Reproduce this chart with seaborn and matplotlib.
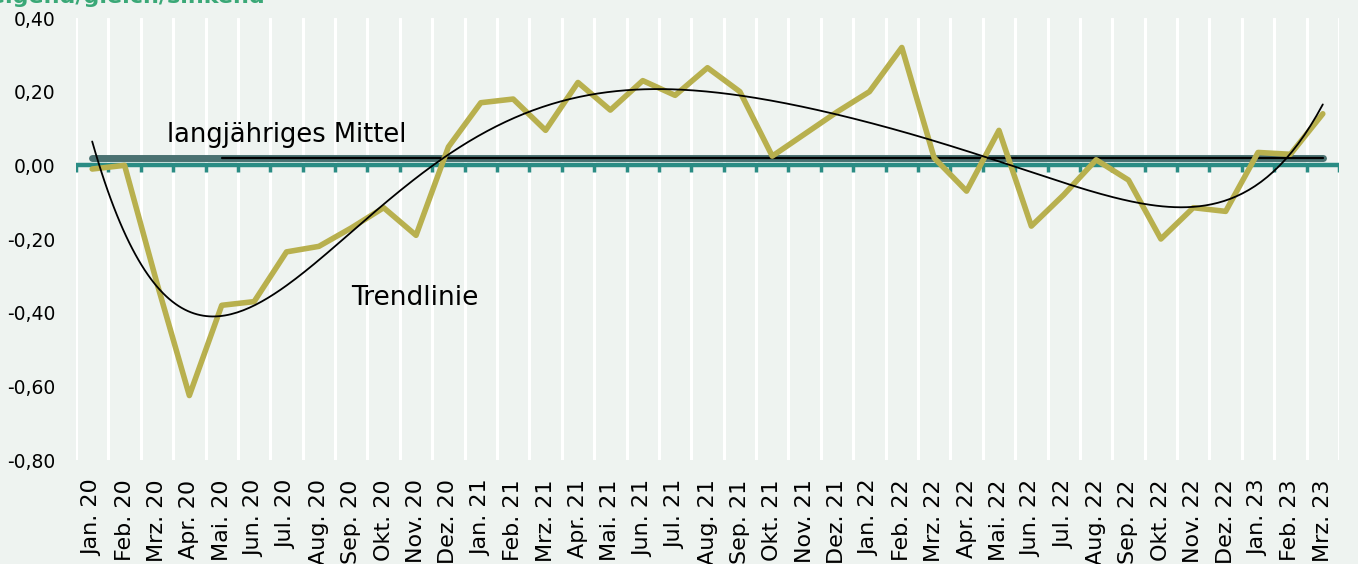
import numpy as np
import pandas as pd
import matplotlib
matplotlib.use("Agg")
import matplotlib.pyplot as plt
import seaborn as sns

months = ["Jan.", "Feb.", "Mrz.", "Apr.", "Mai.", "Jun.", "Jul.", "Aug.", "Sep.", "Okt.", "Nov.", "Dez."]
labels = [f"{m} {y}" for y in ["20", "21", "22"] for m in months] + ["Jan. 23", "Feb. 23", "Mrz. 23"]

values = [-0.01, 0.00, -0.32, -0.625, -0.38, -0.37, -0.235, -0.22, -0.17, -0.115, -0.19, 0.05,
          0.17, 0.18, 0.095, 0.225, 0.15, 0.23, 0.19, 0.265, 0.20, 0.025, 0.085, 0.145,
          0.20, 0.32, 0.02, -0.07, 0.095, -0.165, -0.08, 0.015, -0.04, -0.20, -0.115, -0.125,
          0.035, 0.03, 0.14]
mittel = 0.02
title_text = "steigend/gleich/sinkend"
yticks = [0.40, 0.20, 0.00, -0.20, -0.40, -0.60, -0.80]

bg = "#EEF3F0"
olive = "#B8B04E"
teal = "#2A8C84"
slate = "#4A7171"

sns.set_style("white")
plt.rcParams['font.family'] = ['DejaVu Sans']

fig = plt.figure(figsize=(13.58, 5.64), dpi=100, facecolor=bg)
ax = fig.add_axes([76/1358, 1-460/564, (1339-76)/1358, (460-18)/564])
ax.set_facecolor(bg)

n = len(labels)
x = np.arange(n)
df = pd.DataFrame({"x": x, "v": values})

ax.set_xlim(-0.5, n - 0.5)
ax.set_ylim(-0.80, 0.40)

# vertical white gridlines at category boundaries
for b in np.arange(n + 1) - 0.5:
    ax.axvline(b, color="white", lw=2.2, zorder=1)

# zero axis with downward ticks
ax.axhline(0, color=teal, lw=3.2, zorder=3)
ax.vlines(np.arange(n + 1) - 0.5, -0.018, 0, color=teal, lw=2.5, zorder=3)

# long-term mean
ax.plot([0, n - 1], [mittel, mittel], color=slate, lw=5, solid_capstyle="round", zorder=4)
ax.plot([4, n - 1], [mittel, mittel], color="black", lw=1.6, zorder=5)

sns.lineplot(data=df, x="x", y="v", ax=ax, color=olive, lw=4, zorder=6)

# polynomial trend line
coef = np.polyfit(x, values, 6)
xs = np.linspace(0, n - 1, 400)
ax.plot(xs, np.polyval(coef, xs), color="black", lw=1.3, zorder=7)

ax.text(6.0, 0.083, "langjähriges Mittel", fontsize=18.5, ha="center", va="center", color="black")
ax.text(9.95, -0.36, "Trendlinie", fontsize=19, ha="center", va="center", color="black")

ax.set_yticks(yticks)
ax.set_yticklabels([f"{t:.2f}".replace(".", ",") for t in yticks], fontsize=13.5, color="black")
ax.set_xticks(x)
ax.set_xticklabels(labels, rotation=90, fontsize=16, va="top", color="black")
ax.tick_params(axis="both", length=0)
ax.tick_params(axis="x", pad=14)
ax.tick_params(axis="y", pad=15)
ax.set_xlabel("")
ax.set_ylabel("")
for s in ax.spines.values():
    s.set_visible(False)

fig.text(266/1358, 1-3/564, title_text, fontsize=16, fontweight="bold", color="#3AA877",
         ha="right", va="baseline")

fig.savefig("out.png", dpi=100, facecolor=bg)
